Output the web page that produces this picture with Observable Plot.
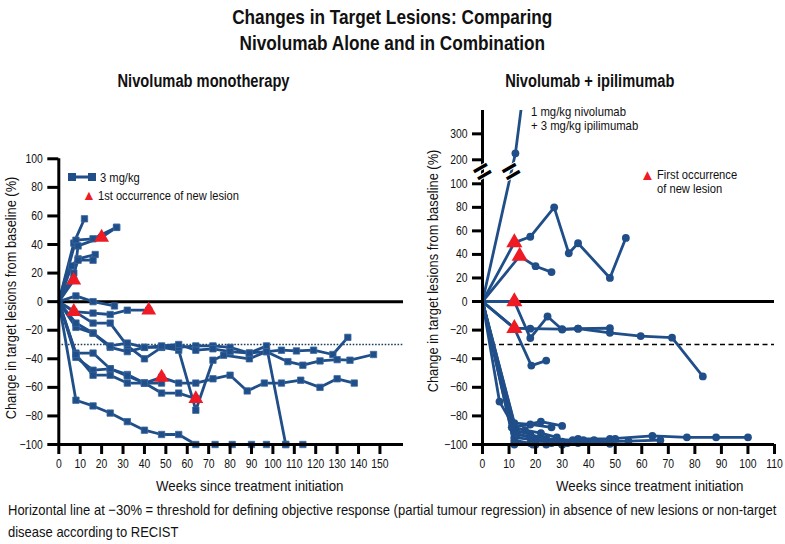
<!DOCTYPE html>
<html><head><meta charset="utf-8">
<script src="https://cdn.jsdelivr.net/npm/d3@7"></script>
<script src="https://cdn.jsdelivr.net/npm/@observablehq/plot@0.6"></script>
<style>
body{margin:0;background:#fff;}
#root{position:relative;width:785px;height:544px;overflow:hidden;font-family:"Liberation Sans",Arial,sans-serif;color:#111;}
.abs{position:absolute;white-space:nowrap;}
.plot{position:absolute;top:0;}
.cx{display:inline-block;transform-origin:center center;}
.lx{display:inline-block;transform-origin:left center;}
</style></head>
<body><div id="root">
<div class="abs" style="left:0;top:4px;width:785px;text-align:center;font-weight:bold;font-size:21px;line-height:26px;"><span class="cx" style="transform:scaleX(0.82)">Changes in Target Lesions: Comparing</span><br><span class="cx" style="transform:scaleX(0.82)">Nivolumab Alone and in Combination</span></div>
<div class="abs" style="left:0;top:71px;width:408px;text-align:center;font-weight:bold;font-size:18px;"><span class="cx" style="transform:scaleX(0.815)">Nivolumab monotherapy</span></div>
<div class="abs" style="left:480px;top:71px;width:220px;text-align:center;font-weight:bold;font-size:18px;"><span class="cx" style="transform:scaleX(0.815)">Nivolumab + ipilimumab</span></div>
<div id="leftPlot" class="plot" style="left:0;"></div>
<div id="rightPlot" class="plot" style="left:420px;"></div>
<div class="abs" style="left:144px;top:477px;width:200px;text-align:center;font-size:15px;"><span class="cx" style="transform:scaleX(0.886)">Weeks since treatment initiation</span></div>
<div class="abs" style="left:544px;top:477px;width:200px;text-align:center;font-size:15px;"><span class="cx" style="transform:scaleX(0.886)">Weeks since treatment initiation</span></div>
<div class="abs" style="left:10px;top:298px;font-size:15px;transform:translate(-50%,-50%) rotate(-90deg) scaleX(0.856);">Change in target lesions from baseline (%)</div>
<div class="abs" style="left:432px;top:271px;font-size:15px;transform:translate(-50%,-50%) rotate(-90deg) scaleX(0.856);">Change in target lesions from baseline (%)</div>
<div class="abs" style="left:68px;top:170px;font-size:13px;line-height:16px;">
  <div><svg width="28" height="12" style="vertical-align:-1px"><line x1="4" y1="6" x2="24" y2="6" stroke="#1f4e89" stroke-width="3"/><rect x="0" y="2" width="8" height="8" fill="#1f4e89"/><rect x="20" y="2" width="8" height="8" fill="#1f4e89"/></svg> <span class="lx" style="transform:scaleX(0.86)">3 mg/kg</span></div>
  <div style="margin-top:1px;padding-left:14px;"><span style="color:#ee1b24;font-size:14px;">&#9650;</span><span class="lx" style="transform:scaleX(0.855);margin-left:2px;">1st occurrence of new lesion</span></div>
</div>
<div class="abs" style="left:531px;top:105px;font-size:13px;line-height:14px;"><span class="lx" style="transform:scaleX(0.87)">1 mg/kg nivolumab</span><br><span class="lx" style="transform:scaleX(0.87)">+ 3 mg/kg ipilimumab</span></div>
<div class="abs" style="left:640px;top:168px;font-size:13px;line-height:14px;"><span style="position:absolute;left:0;top:0px;color:#ee1b24;font-size:15px;">&#9650;</span><div style="padding-left:17px;"><span class="lx" style="transform:scaleX(0.86)">First occurrence</span><br><span class="lx" style="transform:scaleX(0.86)">of new lesion</span></div></div>
<div class="abs" style="left:8px;top:499px;font-size:15px;line-height:22px;"><span class="lx" style="transform:scaleX(0.866)">Horizontal line at −30% = threshold for defining objective response (partial tumour regression) in absence of new lesions or non-target</span><br><span class="lx" style="transform:scaleX(0.866)">disease according to RECIST</span></div>
</div>
<script>
// ---------- data: Nivolumab monotherapy (3 mg/kg), [week, % change] ----------
const monoPatients = [
  [[0,0],[7,41],[12,58]],
  [[0,0],[8,43],[16,44],[27,52]],
  [[0,0],[7,15],[9,39],[20,45],[27,52]],
  [[0,0],[6,25],[9,30],[17,33]],
  [[0,0],[7,20],[9,29],[16,29]],
  [[0,0],[8,4],[16,0],[26,-3]],
  [[0,0],[7,-7],[16,-8],[24,-9],[32,-6],[42,-6]],
  [[0,0],[16,-15],[24,-15],[32,-31],[40,-40],[48,-32],[56,-34],[64,-76],[72,-41],[77,-37.5],[89,-40],[97,-35],[104,-34],[111,-34.5],[119,-34],[128,-37],[135,-25]],
  [[0,0],[8,-18],[16,-22],[24,-32],[32,-35],[40,-32],[48,-32],[56,-32],[64,-31],[72,-31],[80,-32],[89,-36],[97,-31],[106,-100]],
  [[0,0],[8,-15],[16,-22],[24,-31],[32,-29],[40,-32],[48,-31],[56,-30],[64,-34],[72,-33],[80,-35],[89,-36],[97,-35],[107,-42],[114,-44.5],[122,-41.5],[130,-40.6],[136,-41],[147,-37]],
  [[0,0],[8,-36],[16,-36],[24,-47],[32,-51],[40,-57],[48,-53],[56,-57],[64,-57],[72,-54],[80,-51.5],[88,-62.5],[96,-57],[104,-57],[113,-55],[122,-60],[130,-54],[138,-57]],
  [[0,0],[8,-39],[16,-48],[24,-47],[32,-52],[40,-57],[48,-64],[56,-64],[64,-68]],
  [[0,0],[8,-37],[16,-51.5],[24,-51.5],[32,-57],[40,-57],[48,-57]],
  [[0,0],[8,-69],[16,-73],[24,-78],[32,-84],[40,-90],[48,-93],[56,-93],[64,-100],[73,-100],[81,-100],[90,-100],[97,-100],[106,-100],[114,-100]]
];
const monoNewLesion = [[7,15],[20,45],[7,-7],[42,-6],[48,-53],[64,-68]];
const monoXTicks = [0,10,20,30,40,50,60,70,80,90,100,110,120,130,140,150];
const monoYTicks = [-100,-80,-60,-40,-20,0,20,40,60,80,100];

// ---------- data: Nivolumab + ipilimumab, [week, % change] ----------
const comboPatients = [
  [[0,0],[12.4,225],[14.6,400]],
  [[0,0],[12,50],[18,55],[27,80],[32.5,41],[36,49.5],[48,20],[54,54]],
  [[0,0],[14,38.5],[20,30],[26,25]],
  [[0,0],[12,0],[18,-25.6],[24.5,-10.5],[30,-19.6],[36,-19],[48,-18.7]],
  [[0,0],[12,-18.7],[18,-19],[30,-19.3],[36,-19],[48,-21.9],[59.6,-24.2],[71.4,-25.3],[83,-52.4]],
  [[0,0],[12,-18.7],[18.4,-44.8],[24,-41.3]],
  [[0,0],[6.4,-70],[12,-88],[22,-84],[30,-87]],
  [[0,0],[12,-85],[18,-86],[26,-88]],
  [[0,0],[12,-90],[18,-93],[24,-96],[30,-98],[36,-96],[48,-96],[64,-94],[77,-95],[88,-95],[100,-95]],
  [[0,0],[12,-95],[20,-97],[30,-99],[38,-98],[48,-98],[55,-97.7],[67,-97]],
  [[0,0],[12,-100],[18,-99],[24,-100],[30,-100],[36,-99],[48,-99.5]],
  [[0,0],[12,-92],[18,-95],[26,-98],[30,-100]],
  [[0,0],[12,-97],[20,-100],[26,-99],[32,-99],[38,-97]],
  [[0,0],[11,-88],[16,-90],[22,-92],[28,-95]],
  [[0,0],[12,-99],[19,-100]],
  [[0,0],[13,-93],[22,-96],[34,-97],[42,-97],[50,-96]]
];
const comboNewLesion = [[12,50],[14,38.5],[12,0],[12,-18.7]];
const comboXTicks = [0,10,20,30,40,50,60,70,80,90,100,110];
const comboYTicks = [-100,-80,-60,-40,-20,0,20,40,60,80,100,200,300];
const comboAxisBreaks = [[0,150],[10.8,150]];
// broken (piecewise) value axis of the combination panel
const comboBreakDomain = [-100, 0, 100, 200, 390];
const comboBreakRange = [0, 143, 260.7, 284.7, 334];

const BLUE = "#1f4e89", RED = "#ee1b24";
const FONT = '"Liberation Sans",Arial,sans-serif';
const toRows = (list) => list.flatMap((pts, i) => pts.map(([w, v]) => ({id: i, w, v})));
const toPts = (list) => list.map(([w, v]) => ({w, v}));
const minus = (s) => String(s).replace("-", "\u2212");

function condense(svg, k) {
  svg.querySelectorAll('g[aria-label$="tick label"] text').forEach(t => {
    const L = t.getComputedTextLength();
    if (L > 0) { t.setAttribute("textLength", L * k); t.setAttribute("lengthAdjust", "spacingAndGlyphs"); }
  });
}

const monoData = toRows(monoPatients);
const left = Plot.plot({
  width: 420, height: 544,
  marginTop: 158.3, marginBottom: 100, marginLeft: 58.3, marginRight: 17,
  x: {domain: [0, 161]},
  y: {domain: [-100, 100]},
  style: {fontFamily: FONT, fontSize: "12.5px", color: "#111", background: "transparent", overflow: "visible"},
  marks: [
    Plot.ruleY([-30], {stroke: "#1d3f5e", strokeWidth: 1.6, strokeDasharray: "1.6,1.6"}),
    Plot.ruleY([0], {stroke: "#000", strokeWidth: 3}),
    Plot.line(monoData, {x: "w", y: "v", z: "id", stroke: BLUE, strokeWidth: 2.8, strokeLinejoin: "round"}),
    Plot.dot(monoData.filter(d => d.w > 0), {x: "w", y: "v", symbol: "square", r: 3.6, fill: BLUE, stroke: "#3a67a0", strokeWidth: 0.8}),
    Plot.dot(toPts(monoNewLesion), {x: "w", y: "v", symbol: "triangle", r: 5.5, fill: RED}),
    Plot.ruleY([-100], {stroke: "#000", strokeWidth: 3}),
    Plot.ruleX([0], {stroke: "#000", strokeWidth: 3}),
    Plot.axisY({ticks: monoYTicks, tickSize: 11, tickPadding: 5, strokeWidth: 3, stroke: "#000", label: null, tickFormat: minus}),
    Plot.axisX({ticks: monoXTicks, tickSize: 10, tickPadding: 5, strokeWidth: 3, stroke: "#000", label: null})
  ]
});
document.getElementById("leftPlot").appendChild(left);
condense(left, 0.83);

const warp = d3.scaleLinear().domain(comboBreakDomain).range(comboBreakRange);
const comboData = toRows(comboPatients);
const right = Plot.plot({
  width: 365, height: 544,
  marginTop: 110, marginBottom: 100, marginLeft: 62, marginRight: 11,
  x: {domain: [0, 110]},
  y: {domain: [0, 334]},
  style: {fontFamily: FONT, fontSize: "12.5px", color: "#111", background: "transparent", overflow: "visible"},
  marks: [
    Plot.ruleY([-30], {y: v => warp(v), stroke: "#000", strokeWidth: 1.5, strokeDasharray: "5,3.5"}),
    Plot.ruleY([0], {y: v => warp(v), stroke: "#000", strokeWidth: 3}),
    Plot.line(comboData, {x: "w", y: d => warp(d.v), z: "id", stroke: BLUE, strokeWidth: 2.8, strokeLinejoin: "round", clip: true}),
    Plot.dot(comboData.filter(d => d.w > 0 && d.v <= 390), {x: "w", y: d => warp(d.v), r: 3.9, fill: BLUE}),
    Plot.dot(toPts(comboNewLesion), {x: "w", y: d => warp(d.v), symbol: "triangle", r: 6, fill: RED}),
    Plot.ruleY([-100], {y: v => warp(v), stroke: "#000", strokeWidth: 3}),
    Plot.ruleX([0], {stroke: "#000", strokeWidth: 3}),
    Plot.text(toPts(comboAxisBreaks), {x: "w", y: d => warp(d.v), text: () => "=", rotate: -30, fontSize: 30, fontWeight: "bold", fill: "#000", stroke: "#fff", strokeWidth: 2, paintOrder: "stroke"}),
    Plot.axisY({ticks: comboYTicks.map(t => warp(t)), tickFormat: u => minus(Math.round(warp.invert(u))), tickSize: 10, tickPadding: 5, strokeWidth: 3, stroke: "#000", label: null}),
    Plot.axisX({ticks: comboXTicks, tickSize: 10, tickPadding: 5, strokeWidth: 3, stroke: "#000", label: null})
  ]
});
document.getElementById("rightPlot").appendChild(right);
condense(right, 0.83);
</script>
</body></html>
